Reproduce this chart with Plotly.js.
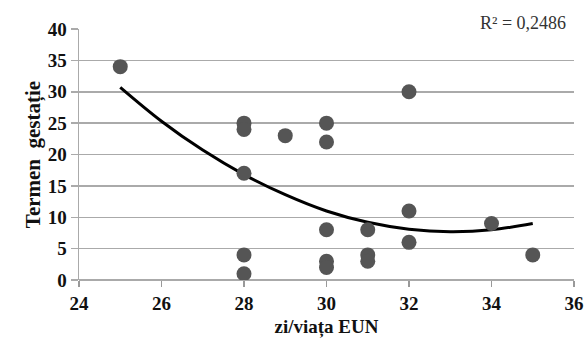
<!DOCTYPE html>
<html><head><meta charset="utf-8">
<script src="https://cdn.plot.ly/plotly-3.0.1.min.js"></script>
<style>body{margin:0;background:#fff}#c{width:588px;height:345px}</style>
</head><body><div id="c"></div>
<script>
const ziViata = [25,28,28,28,28,28,29,30,30,30,30,30,31,31,31,32,32,32,34,35];
const termen  = [34,25,24,17,4,1,23,25,22,8,3,2,8,4,3,30,11,6,9,4];
// trendline (polynomial, order 2) values
const trendX = [25,26,27,28,29,30,31,32,33,34,35];
const trendY = [30.7,25.3,20.7,16.8,13.6,11.0,9.2,8.1,7.7,8.0,9.0];
const xTicks = [24,26,28,30,32,34,36];
const yTicks = [0,5,10,15,20,25,30,35,40];
const r2Label = 'R² = 0,2486';

const bold = v => '<b>' + v + '</b>';
const serif = 'Liberation Serif, Times New Roman, serif';
const tickFont = {family:serif, size:19, color:'#111'};
Plotly.newPlot('c', [
  {x:trendX, y:trendY, mode:'lines', line:{color:'#000', width:3, shape:'spline'}, hoverinfo:'skip'},
  {x:ziViata, y:termen, mode:'markers', marker:{color:'#555', size:15}}
], {
  width:588, height:345, showlegend:false,
  margin:{l:79, r:14, t:29, b:65},
  paper_bgcolor:'#fff', plot_bgcolor:'#fff',
  xaxis:{range:[24,36], tickmode:'array', tickvals:xTicks, ticktext:xTicks.map(bold), showgrid:false, zeroline:false,
    showline:false, ticks:'outside', ticklen:6, tickcolor:'#999', tickwidth:1.5,
    tickfont:tickFont,
    title:{text:'<b>zi/viața EUN</b>', font:{family:serif, size:19, color:'#111'}, standoff:6}},
  yaxis:{range:[0,40], tickmode:'array', tickvals:yTicks, ticktext:yTicks.map(bold), showgrid:true, gridcolor:'#aaa', gridwidth:1.5,
    zeroline:true, zerolinecolor:'#aaa', zerolinewidth:1.5,
    showline:true, linecolor:'#aaa', linewidth:1.5,
    ticks:'outside', ticklen:7, tickcolor:'#aaa', tickwidth:1.5,
    tickfont:tickFont,
    title:{text:'<b>Termen\u00a0 gestație</b>', font:{family:serif, size:21, color:'#111'}, standoff:1}},
  annotations:[{text:r2Label, xref:'paper', yref:'paper', x:1, y:1, xanchor:'right', yanchor:'middle',
    yshift:6, xshift:-6, showarrow:false, font:{family:serif, size:18, color:'#333'}}]
}, {displayModeBar:false, staticPlot:true});
</script></body></html>
